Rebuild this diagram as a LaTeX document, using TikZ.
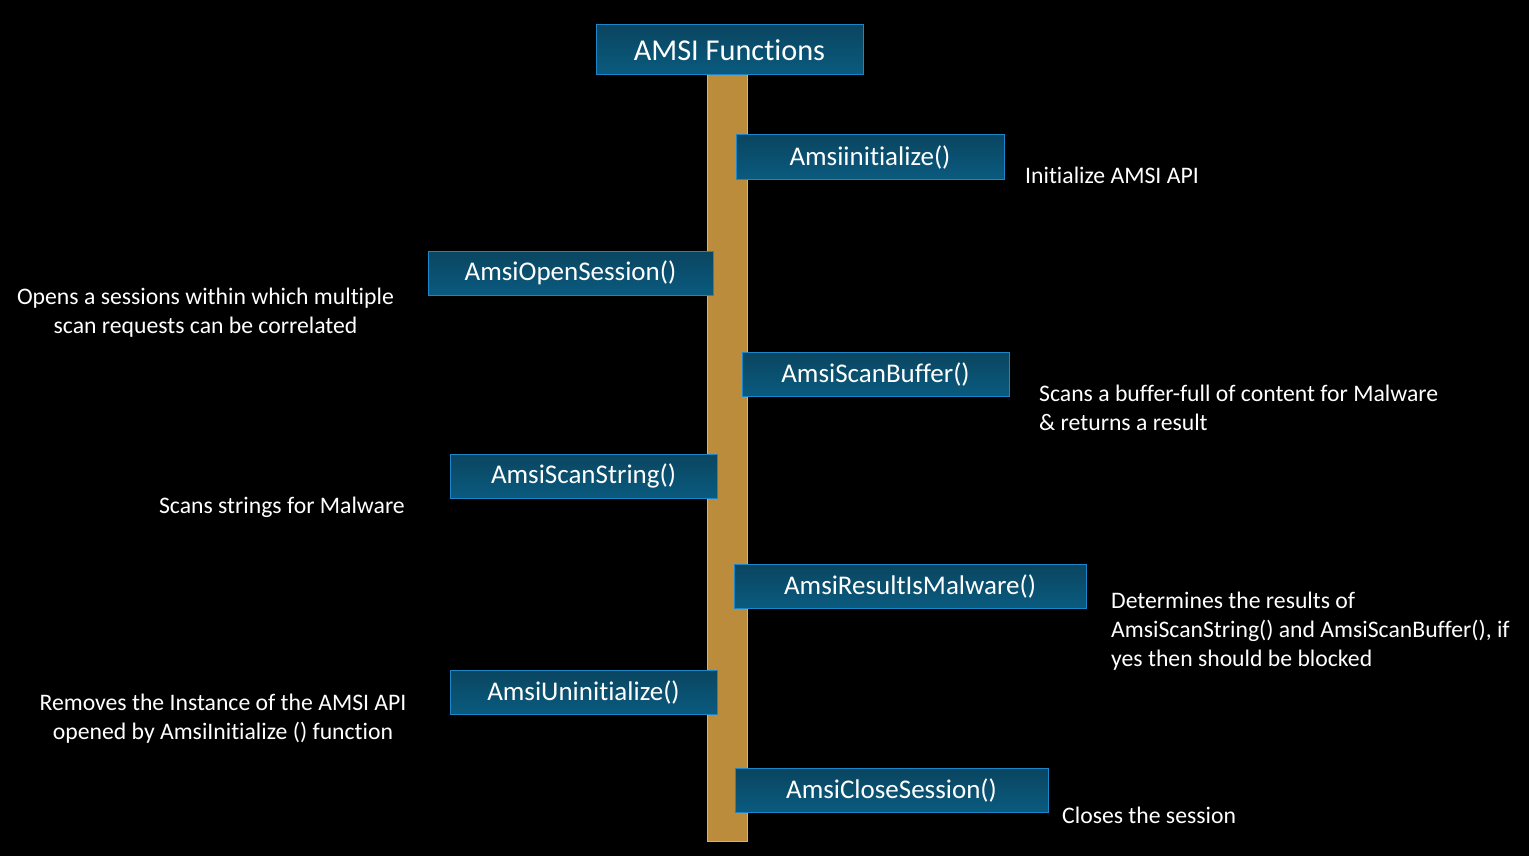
\documentclass[tikz,border=0pt]{standalone}
\usepackage{fontspec}
\setmainfont{Carlito}[Ligatures=NoCommon]
\usetikzlibrary{positioning}
\definecolor{boxtop}{HTML}{0A4560}
\definecolor{boxbot}{HTML}{0A5B7F}
\definecolor{boxline}{HTML}{1B87C9}
\definecolor{railfill}{HTML}{BA8C3C}
\definecolor{railline}{HTML}{D9B273}
\begin{document}
\begin{tikzpicture}[x=1pt, y=-1pt,
  fn/.style={draw=boxline, line width=1pt, top color=boxtop, bottom color=boxbot, text=white, inner sep=0pt, minimum height=44pt, font=\fontsize{27}{32}\selectfont},
  ttl/.style={fn, minimum height=50pt, font=\fontsize{30.3}{36}\selectfont},
  lab/.style={text=white, inner sep=0pt, font=\fontsize{23.7}{28.7}\selectfont}]
\fill[black] (0,0) rectangle (1529,856);
\useasboundingbox (0,0) rectangle (1529,856);
% the rail
\draw[draw=railline, fill=railfill, line width=1pt] (707,75) rectangle (747,841);
\node[ttl, minimum width=267pt] (amsi) at (729.5,50) {AMSI Functions};
% functions on the right
\node[fn, minimum width=268pt] (init) at (870,157) {Amsiinitialize()};
\node[lab, anchor=base west] (initl) at (1025,183) {Initialize AMSI API};
\node[fn, minimum width=267pt] (buf) at (875.5,374) {AmsiScanBuffer()};
\node[lab, anchor=base west, align=left] (bufl) at (1039,430) {Scans a buffer-full of content for Malware\\\& returns a result};
\node[fn, minimum width=352pt] (res) at (910,586) {AmsiResultIsMalware()};
\node[lab, anchor=base west, align=left] (resl) at (1111,666) {Determines the results of\\AmsiScanString() and AmsiScanBuffer(), if\\yes then should be blocked};
\node[fn, minimum width=313pt] (close) at (891.5,790) {AmsiCloseSession()};
\node[lab, anchor=base west] (closel) at (1062,823) {Closes the session};
% functions on the left
\node[fn, minimum width=285pt] (open) at (570.5,273) {AmsiOpenSession()};
\node[lab, anchor=base, align=center] (openl) at (205.5,333) {Opens a sessions within which multiple\\scan requests can be correlated};
\node[fn, minimum width=267pt] (str) at (583.5,476) {AmsiScanString()};
\node[lab, anchor=base east] (strl) at (405,513) {Scans strings for Malware};
\node[fn, minimum width=267pt] (uninit) at (583.5,692) {AmsiUninitialize()};
\node[lab, anchor=base, align=center] (uninitl) at (223,739) {Removes the Instance of the AMSI API\\opened by AmsiInitialize () function};
\end{tikzpicture}
\end{document}
